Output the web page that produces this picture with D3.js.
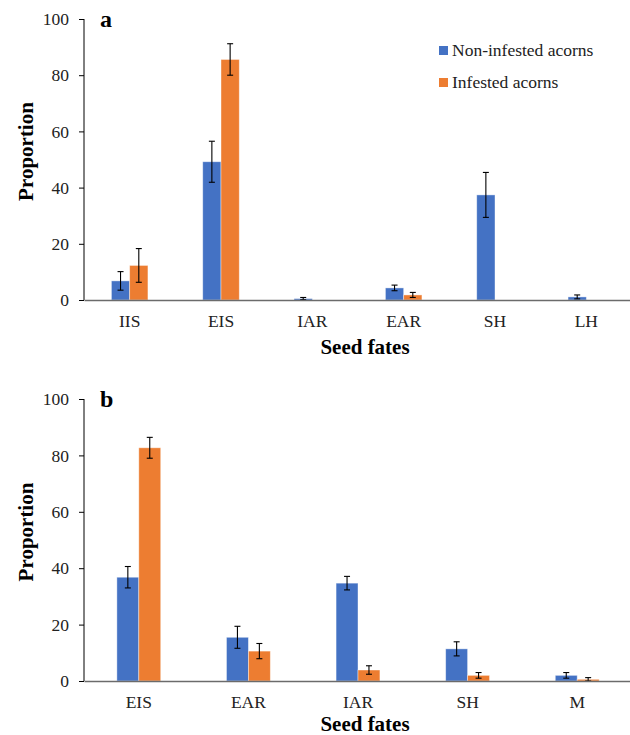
<!DOCTYPE html>
<html>
<head>
<meta charset="utf-8">
<script src="https://cdn.jsdelivr.net/npm/d3@7"></script>
<style>
  body { margin: 0; background: #fff; }
</style>
</head>
<body>
<div id="chart"></div>
<script>
// panel a
const fatesA = ["IIS", "EIS", "IAR", "EAR", "SH", "LH"]
const nonInfestedA = [6.8, 49.2, 0.5, 4.3, 37.4, 1.1]
const nonInfestedErrA = [3.3, 7.3, 0.4, 1.0, 8.0, 0.7]
const infestedA = [12.3, 85.6, 0, 1.8, 0, 0]
const infestedErrA = [6.0, 5.6, 0, 0.9, 0, 0]

// panel b
const fatesB = ["EIS", "EAR", "IAR", "SH", "M"]
const nonInfestedB = [36.8, 15.5, 34.7, 11.4, 2.0]
const nonInfestedErrB = [3.8, 3.9, 2.4, 2.5, 1.0]
const infestedB = [82.7, 10.6, 3.9, 2.0, 0.6]
const infestedErrB = [3.7, 2.7, 1.5, 1.0, 0.6]

const seriesNames = ["Non-infested acorns", "Infested acorns"]
const seriesColors = ["#4472C4", "#ED7D31"]
const yTicks = [0, 20, 40, 60, 80, 100]

const FONT = "'Liberation Serif', 'DejaVu Serif', 'Noto Serif', serif"
const width = 630
const height = 735

const svg = d3.select("#chart")
    .append("svg")
    .attr("width", width)
    .attr("height", height)

function DrawPanel(top, bottom, letter, titleGap, fates, values, errors) {
    const left = 84
    const right = 632

    const xScale = d3.scaleBand()
        .domain(fates)
        .range([left, right])
        .paddingInner(0.6)
        .paddingOuter(0.3)
    const xSeries = d3.scaleBand()
        .domain(seriesNames)
        .range([0, xScale.bandwidth()])
    const yScale = d3.scaleLinear()
        .domain([0, 100])
        .range([bottom, top])

    const g = svg.append("g")

    // y axis
    const yAxis = g.append("g")
        .attr("transform", "translate(" + left + ",0)")
        .call(d3.axisLeft(yScale).tickValues(yTicks).tickSize(5).tickPadding(10))
    yAxis.attr("font-family", null)
    yAxis.select(".domain").attr("stroke", "#000").attr("d", "M0," + top + "V" + bottom)
    yAxis.selectAll(".tick line").attr("stroke", "#000")
    yAxis.selectAll(".tick text")
        .attr("fill", "#222")
        .style("font-family", FONT)
        .style("font-size", "17.5px")

    // bars
    seriesNames.forEach((name, si) => {
        const vals = values[si]
        const errs = errors[si]
        g.append("g").selectAll("rect")
            .data(fates)
            .join("rect")
            .attr("x", (d) => xScale(d) + xSeries(name))
            .attr("y", (d, i) => yScale(vals[i]))
            .attr("width", xSeries.bandwidth())
            .attr("height", (d, i) => yScale(0) - yScale(vals[i]))
            .attr("fill", seriesColors[si])
            .attr("stroke", "#fff")
            .attr("stroke-opacity", 0.5)
            .attr("stroke-width", 0.8)

        const eb = g.append("g")
            .attr("stroke", "#000")
            .attr("stroke-width", 1.1)
        fates.forEach((f, i) => {
            if (errs[i] <= 0) return
            const cx = xScale(f) + xSeries(name) + xSeries.bandwidth() / 2
            const y1 = yScale(vals[i] + errs[i])
            const y0 = yScale(Math.max(0, vals[i] - errs[i]))
            eb.append("line").attr("x1", cx).attr("x2", cx).attr("y1", y1).attr("y2", y0)
            eb.append("line").attr("x1", cx - 3).attr("x2", cx + 3).attr("y1", y1).attr("y2", y1)
            eb.append("line").attr("x1", cx - 3).attr("x2", cx + 3).attr("y1", y0).attr("y2", y0)
        })
    })

    // x axis
    const xAxis = g.append("g")
        .attr("transform", "translate(0," + bottom + ")")
        .call(d3.axisBottom(xScale).tickSize(0).tickPadding(15))
    xAxis.attr("font-family", null)
    xAxis.select(".domain").attr("stroke", "#6b6b6b").attr("stroke-width", 1.3)
    xAxis.selectAll(".tick text")
        .attr("dy", null)
        .attr("y", 27)
        .attr("fill", "#222")
        .style("font-family", FONT)
        .style("font-size", "17.5px")

    g.append("text")
        .attr("x", 365)
        .attr("y", bottom + titleGap)
        .attr("text-anchor", "middle")
        .style("font-family", FONT)
        .style("font-size", "21px")
        .style("font-weight", "bold")
        .text("Seed fates")

    g.append("text")
        .attr("transform", "translate(33," + ((top + bottom) / 2 - 8) + ") rotate(-90)")
        .attr("text-anchor", "middle")
        .style("font-family", FONT)
        .style("font-size", "21px")
        .style("font-weight", "bold")
        .text("Proportion")

    g.append("text")
        .attr("x", 100)
        .attr("y", top + 8)
        .style("font-family", FONT)
        .style("font-size", "24px")
        .style("font-weight", "bold")
        .text(letter)
}

DrawPanel(19, 300, "a", 54, fatesA, [nonInfestedA, infestedA], [nonInfestedErrA, infestedErrA])
DrawPanel(399, 681, "b", 50, fatesB, [nonInfestedB, infestedB], [nonInfestedErrB, infestedErrB])

// legend
const legend = svg.append("g")
seriesNames.forEach((name, i) => {
    legend.append("rect")
        .attr("x", 439)
        .attr("y", 46 + i * 32)
        .attr("width", 9)
        .attr("height", 9)
        .attr("fill", seriesColors[i])
    legend.append("text")
        .attr("x", 452)
        .attr("y", 56 + i * 32)
        .attr("fill", "#222")
        .style("font-family", FONT)
        .style("font-size", "17.5px")
        .text(name)
})
</script>
</body>
</html>
